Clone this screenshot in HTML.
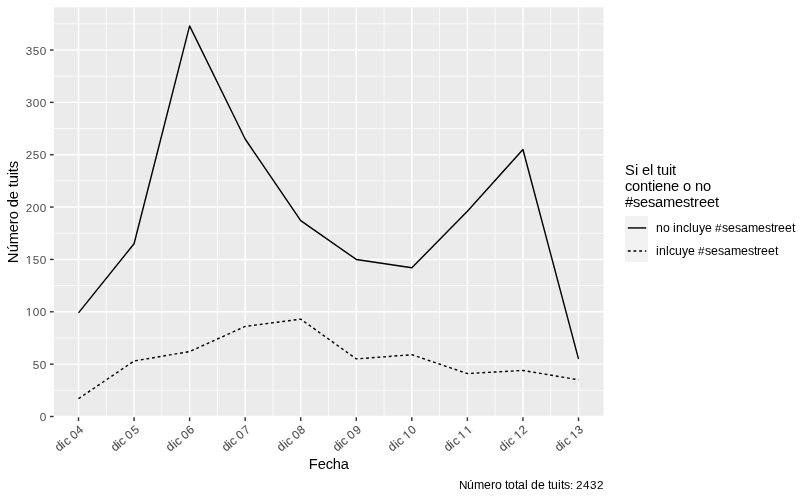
<!DOCTYPE html>
<html lang="es"><head><meta charset="utf-8"><title>Número de tuits por fecha</title>
<style>
html,body{margin:0;padding:0;background:#fff;}
body{width:800px;height:500px;overflow:hidden;}
svg{display:block;font-family:"Liberation Sans",sans-serif;}
.at{font-size:12.3px;fill:#4d4d4d;}
.dg{font-size:11.73px;fill:#4d4d4d;}
.ti{font-size:14.67px;fill:#000;}
.xr{font-size:11.73px;fill:#4d4d4d;stroke:#4d4d4d;stroke-width:0.1px;}
.xl{font-size:12.3px;}
.n{font-size:11.73px;}
.c{font-size:14.67px;}
.lt{font-size:12.3px;fill:#000;}
</style></head><body>
<svg width="800" height="500" viewBox="0 0 800 500">
<rect x="0" y="0" width="800" height="500" fill="#ffffff"/>
<rect x="54.00" y="7.33" width="549.50" height="409.67" fill="#ebebeb"/>
<clipPath id="pc"><rect x="54.00" y="7.33" width="549.50" height="409.67"/></clipPath>
<g clip-path="url(#pc)">
<g stroke="#ffffff" stroke-width="0.7113" fill="none">
<line x1="54.00" x2="603.50" y1="390.32" y2="390.32"/>
<line x1="54.00" x2="603.50" y1="337.96" y2="337.96"/>
<line x1="54.00" x2="603.50" y1="285.61" y2="285.61"/>
<line x1="54.00" x2="603.50" y1="233.25" y2="233.25"/>
<line x1="54.00" x2="603.50" y1="180.89" y2="180.89"/>
<line x1="54.00" x2="603.50" y1="128.54" y2="128.54"/>
<line x1="54.00" x2="603.50" y1="76.18" y2="76.18"/>
<line x1="54.00" x2="603.50" y1="23.82" y2="23.82"/>
<line x1="106.28" x2="106.28" y1="7.33" y2="417.00"/>
<line x1="161.83" x2="161.83" y1="7.33" y2="417.00"/>
<line x1="217.39" x2="217.39" y1="7.33" y2="417.00"/>
<line x1="272.94" x2="272.94" y1="7.33" y2="417.00"/>
<line x1="328.50" x2="328.50" y1="7.33" y2="417.00"/>
<line x1="384.06" x2="384.06" y1="7.33" y2="417.00"/>
<line x1="439.61" x2="439.61" y1="7.33" y2="417.00"/>
<line x1="495.17" x2="495.17" y1="7.33" y2="417.00"/>
<line x1="550.72" x2="550.72" y1="7.33" y2="417.00"/>
</g>
<g stroke="#ffffff" stroke-width="1.4226" fill="none">
<line x1="54.00" x2="603.50" y1="416.50" y2="416.50"/>
<line x1="54.00" x2="603.50" y1="364.14" y2="364.14"/>
<line x1="54.00" x2="603.50" y1="311.79" y2="311.79"/>
<line x1="54.00" x2="603.50" y1="259.43" y2="259.43"/>
<line x1="54.00" x2="603.50" y1="207.07" y2="207.07"/>
<line x1="54.00" x2="603.50" y1="154.71" y2="154.71"/>
<line x1="54.00" x2="603.50" y1="102.36" y2="102.36"/>
<line x1="54.00" x2="603.50" y1="50.00" y2="50.00"/>
<line x1="78.50" x2="78.50" y1="7.33" y2="417.00"/>
<line x1="134.06" x2="134.06" y1="7.33" y2="417.00"/>
<line x1="189.61" x2="189.61" y1="7.33" y2="417.00"/>
<line x1="245.17" x2="245.17" y1="7.33" y2="417.00"/>
<line x1="300.72" x2="300.72" y1="7.33" y2="417.00"/>
<line x1="356.28" x2="356.28" y1="7.33" y2="417.00"/>
<line x1="411.83" x2="411.83" y1="7.33" y2="417.00"/>
<line x1="467.39" x2="467.39" y1="7.33" y2="417.00"/>
<line x1="522.94" x2="522.94" y1="7.33" y2="417.00"/>
<line x1="578.50" x2="578.50" y1="7.33" y2="417.00"/>
</g>
<polyline points="78.50,312.83 134.06,243.72 189.61,25.92 245.17,139.01 300.72,220.68 356.28,259.43 411.83,267.81 467.39,211.26 522.94,149.48 578.50,358.91" fill="none" stroke="#000" stroke-width="1.4226" stroke-linejoin="round" stroke-linecap="butt"/>
<polyline points="78.50,398.70 134.06,361.00 189.61,351.58 245.17,326.45 300.72,319.12 356.28,358.91 411.83,354.72 467.39,373.57 522.94,370.43 578.50,379.85" fill="none" stroke="#000" stroke-width="1.4226" stroke-linejoin="round" stroke-linecap="butt" stroke-dasharray="2.8453 2.8453"/>
</g>
<g stroke="#333333" stroke-width="1.4226" fill="none">
<line x1="49.95" x2="53.62" y1="416.50" y2="416.50"/>
<line x1="49.95" x2="53.62" y1="364.14" y2="364.14"/>
<line x1="49.95" x2="53.62" y1="311.79" y2="311.79"/>
<line x1="49.95" x2="53.62" y1="259.43" y2="259.43"/>
<line x1="49.95" x2="53.62" y1="207.07" y2="207.07"/>
<line x1="49.95" x2="53.62" y1="154.71" y2="154.71"/>
<line x1="49.95" x2="53.62" y1="102.36" y2="102.36"/>
<line x1="49.95" x2="53.62" y1="50.00" y2="50.00"/>
<line x1="78.50" x2="78.50" y1="417.37" y2="421.04"/>
<line x1="134.06" x2="134.06" y1="417.37" y2="421.04"/>
<line x1="189.61" x2="189.61" y1="417.37" y2="421.04"/>
<line x1="245.17" x2="245.17" y1="417.37" y2="421.04"/>
<line x1="300.72" x2="300.72" y1="417.37" y2="421.04"/>
<line x1="356.28" x2="356.28" y1="417.37" y2="421.04"/>
<line x1="411.83" x2="411.83" y1="417.37" y2="421.04"/>
<line x1="467.39" x2="467.39" y1="417.37" y2="421.04"/>
<line x1="522.94" x2="522.94" y1="417.37" y2="421.04"/>
<line x1="578.50" x2="578.50" y1="417.37" y2="421.04"/>
</g>
<text class="dg" x="39.85" y="421">0</text>
<text class="dg" x="32.85 39.85" y="369">50</text>
<text class="dg" x="25.85 32.85 39.85" y="316">100</text>
<g transform="translate(25.85,316)" fill="#ffffff"><rect x="-0.2" y="-1.05" width="3" height="1.4"/><rect x="3.95" y="-1.05" width="2.35" height="1.4"/></g>
<text class="dg" x="25.85 32.85 39.85" y="264">150</text>
<g transform="translate(25.85,264)" fill="#ffffff"><rect x="-0.2" y="-1.05" width="3" height="1.4"/><rect x="3.95" y="-1.05" width="2.35" height="1.4"/></g>
<text class="dg" x="25.85 32.85 39.85" y="212">200</text>
<text class="dg" x="25.85 32.85 39.85" y="159">250</text>
<text class="dg" x="25.85 32.85 39.85" y="107">300</text>
<text class="dg" x="25.85 32.85 39.85" y="55">350</text>
<text class="xr" rotate="-40" x="59 64 67 71 74 79" y="452 448 446 442 440 435"><tspan class="xl">dic </tspan>04</text>
<text class="xr" rotate="-40" x="115 120 122 127 129 135" y="452 448 446 442 440 435"><tspan class="xl">dic </tspan>05</text>
<text class="xr" rotate="-40" x="170 176 178 182 185 190" y="452 448 446 442 440 435"><tspan class="xl">dic </tspan>06</text>
<text class="xr" rotate="-40" x="226 231 233 238 240 246" y="452 448 446 442 440 435"><tspan class="xl">dic </tspan>07</text>
<text class="xr" rotate="-40" x="281 287 289 294 296 301" y="452 448 446 442 440 435"><tspan class="xl">dic </tspan>08</text>
<text class="xr" rotate="-40" x="337 342 344 349 351 357" y="452 448 446 442 440 435"><tspan class="xl">dic </tspan>09</text>
<text class="xr" rotate="-40" x="392 398 400 405 407 412" y="452 448 446 442 440 435"><tspan class="xl">dic </tspan>10</text>
<g transform="translate(407,440) rotate(-40)" fill="#ffffff"><rect x="-0.2" y="-1.05" width="3" height="1.4"/><rect x="3.95" y="-1.05" width="2.35" height="1.4"/></g>
<text class="xr" rotate="-40" x="448 453 456 460 462 468" y="452 448 446 442 440 435"><tspan class="xl">dic </tspan>11</text>
<g transform="translate(462,440) rotate(-40)" fill="#ffffff"><rect x="-0.2" y="-1.05" width="3" height="1.4"/><rect x="3.95" y="-1.05" width="2.35" height="1.4"/></g>
<g transform="translate(468,435) rotate(-40)" fill="#ffffff"><rect x="-0.2" y="-1.05" width="3" height="1.4"/><rect x="3.95" y="-1.05" width="2.35" height="1.4"/></g>
<text class="xr" rotate="-40" x="503 509 511 516 518 523" y="452 448 446 442 440 435"><tspan class="xl">dic </tspan>12</text>
<g transform="translate(518,440) rotate(-40)" fill="#ffffff"><rect x="-0.2" y="-1.05" width="3" height="1.4"/><rect x="3.95" y="-1.05" width="2.35" height="1.4"/></g>
<text class="xr" rotate="-40" x="559 564 567 571 574 579" y="452 448 446 442 440 435"><tspan class="xl">dic </tspan>13</text>
<g transform="translate(574,440) rotate(-40)" fill="#ffffff"><rect x="-0.2" y="-1.05" width="3" height="1.4"/><rect x="3.95" y="-1.05" width="2.35" height="1.4"/></g>
<text class="ti" x="308.75 317.75 325.75 332.75 340.75" y="469"><tspan class="c">F</tspan>echa</text>
<text class="ti" transform="translate(18,212.16) rotate(-90)" x="-51 -40 -32 -20 -12 -7 1 5 13 21 25 29 37 40 44" y="0"><tspan class="c">N</tspan>úmero de tuits</text>
<text class="lt" x="459 467 474 484 491 495 502 505 508 515 518 525 528 531 538 545 548 551 558 561 564 570 573 576 583 590 597" y="489"><tspan class="n">N</tspan>úmero total de tuits<tspan class="n">:</tspan> <tspan class="n">2432</tspan></text>
<text class="ti" x="625 635 638 642 650 653 657 661 669 672" y="175"><tspan class="c">S</tspan>i el tuit</text>
<text class="ti" x="625 632 640 648 652 655 663 671 679 683 691 695 703" y="191">contiene o no</text>
<text class="ti" x="625 633 640 648 655 663 675 683 690 694 699 707 715" y="207">#sesamestreet</text>
<rect x="625" y="216" width="23.04" height="46.08" fill="#f2f2f2"/>
<line x1="627.80" x2="646.24" y1="227.95" y2="227.95" stroke="#000" stroke-width="1.4226"/>
<line x1="627.80" x2="646.24" y1="250.99" y2="250.99" stroke="#000" stroke-width="1.4226" stroke-dasharray="2.8453 2.8453"/>
<text class="lt" x="656 663 670 673 676 683 689 692 699 705 712 715 722 728 735 741 748 758 765 771 774 778 785 792" y="232">no incluye <tspan class="n">#</tspan>sesamestreet</text>
<text class="lt" x="656 659 666 669 675 682 688 695 698 705 711 718 724 731 741 748 754 757 761 768 775" y="255">inlcuye <tspan class="n">#</tspan>sesamestreet</text>
</svg>
</body></html>
